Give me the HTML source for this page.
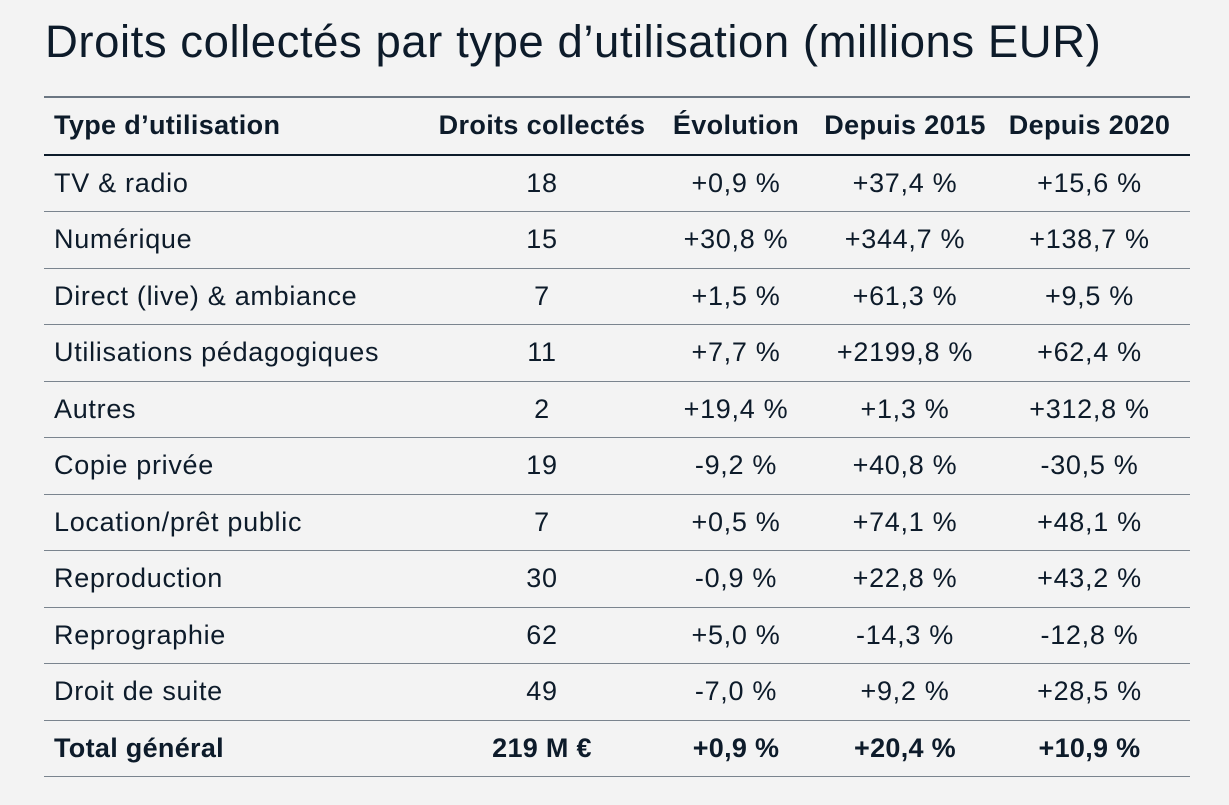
<!DOCTYPE html>
<html><head><meta charset="utf-8"><style>
body{margin:0;width:1229px;height:805px;background:#f3f3f3;font-family:"Liberation Sans",sans-serif;color:#0d1b2a;overflow:hidden;position:relative}
h1{position:absolute;left:45px;top:16px;margin:0;font-weight:normal;font-size:45.5px;letter-spacing:0.55px;white-space:nowrap}
table{position:absolute;left:44px;top:96px;width:1146px;border-collapse:collapse;border-top:2px solid #6b7682;table-layout:fixed}
td,th{height:55.5px;padding:0;font-size:27px;letter-spacing:0.7px;border-bottom:1.5px solid #7a848e;text-align:center;white-space:nowrap}
th{font-weight:bold;font-size:27px;letter-spacing:0.35px;border-bottom:2px solid #0d1b2a}
td:first-child,th:first-child{text-align:left;padding-left:10px}
.c0{width:379px}.c1{width:218px}.c2{width:170px}.c3{width:168px}
tr.tot td{font-weight:bold;letter-spacing:0.3px}
</style></head><body>
<h1>Droits collectés par type d’utilisation (millions EUR)</h1>
<table>
<tr><th class="c0">Type d’utilisation</th><th class="c1">Droits collectés</th><th class="c2">Évolution</th><th class="c3">Depuis 2015</th><th>Depuis 2020</th></tr>
<tr><td>TV &amp; radio</td><td>18</td><td>+0,9 %</td><td>+37,4 %</td><td>+15,6 %</td></tr>
<tr><td>Numérique</td><td>15</td><td>+30,8 %</td><td>+344,7 %</td><td>+138,7 %</td></tr>
<tr><td>Direct (live) &amp; ambiance</td><td>7</td><td>+1,5 %</td><td>+61,3 %</td><td>+9,5 %</td></tr>
<tr><td>Utilisations pédagogiques</td><td>11</td><td>+7,7 %</td><td>+2199,8 %</td><td>+62,4 %</td></tr>
<tr><td>Autres</td><td>2</td><td>+19,4 %</td><td>+1,3 %</td><td>+312,8 %</td></tr>
<tr><td>Copie privée</td><td>19</td><td>-9,2 %</td><td>+40,8 %</td><td>-30,5 %</td></tr>
<tr><td>Location/prêt public</td><td>7</td><td>+0,5 %</td><td>+74,1 %</td><td>+48,1 %</td></tr>
<tr><td>Reproduction</td><td>30</td><td>-0,9 %</td><td>+22,8 %</td><td>+43,2 %</td></tr>
<tr><td>Reprographie</td><td>62</td><td>+5,0 %</td><td>-14,3 %</td><td>-12,8 %</td></tr>
<tr><td>Droit de suite</td><td>49</td><td>-7,0 %</td><td>+9,2 %</td><td>+28,5 %</td></tr>
<tr class="tot"><td>Total général</td><td>219 M €</td><td>+0,9 %</td><td>+20,4 %</td><td>+10,9 %</td></tr>
</table>
</body></html>
